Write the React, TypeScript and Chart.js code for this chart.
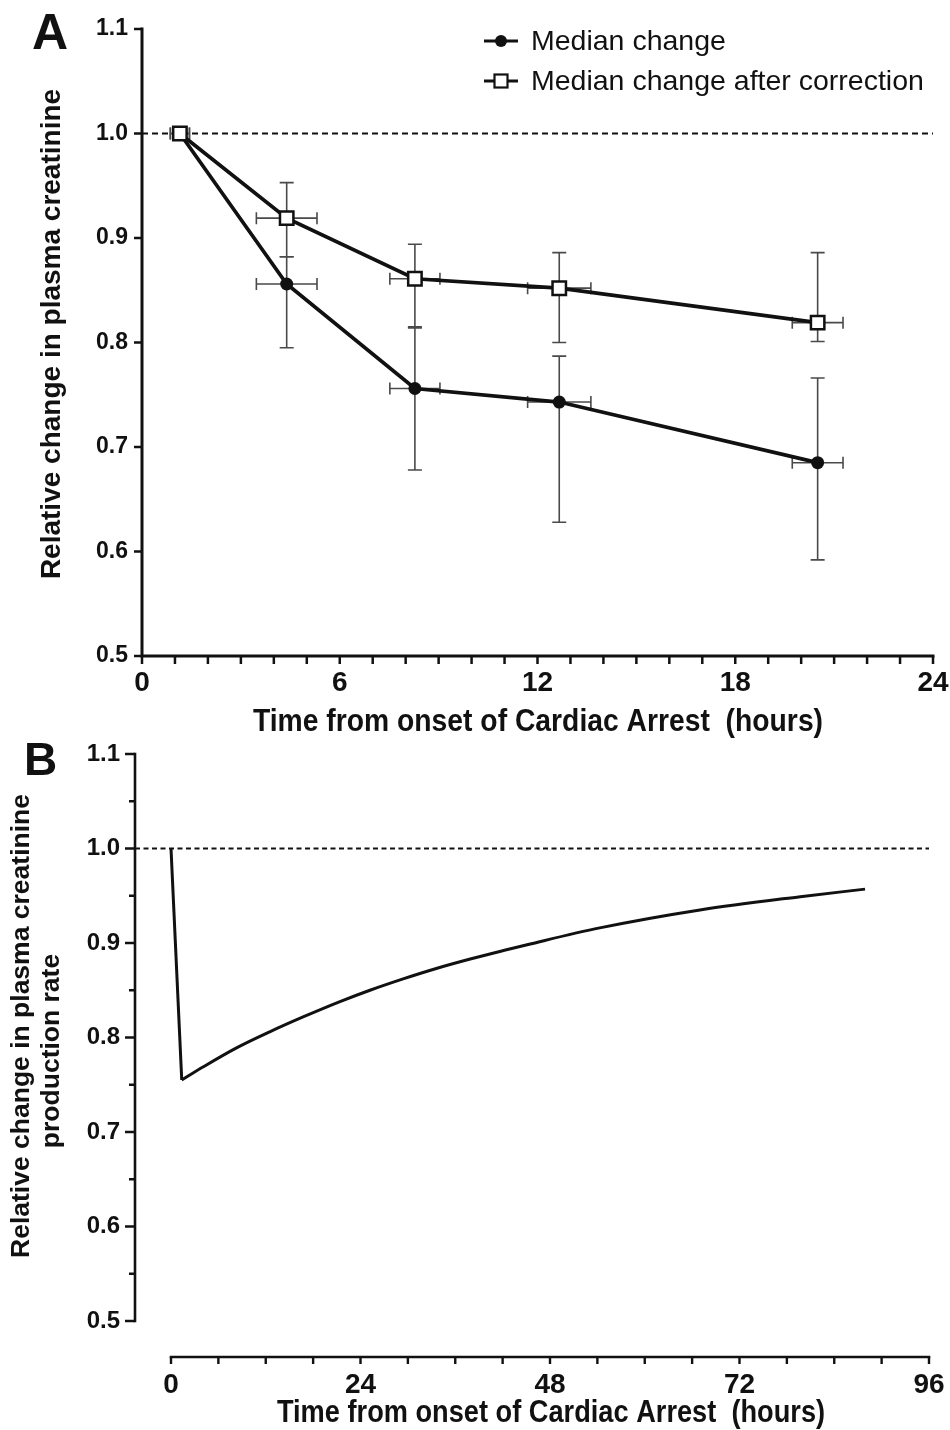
import React, { useEffect, useRef } from "react";
import { Chart, registerables } from "chart.js";

Chart.register(...registerables);

// ---------- Panel A data ----------
const hoursA = [1.15, 4.39, 8.28, 12.66, 20.5];
const hoursErrA = [0.29, 0.92, 0.76, 0.96, 0.77];
const medianChange = [1.0, 0.856, 0.756, 0.743, 0.685];
const medianLow = [1.0, 0.795, 0.678, 0.628, 0.592];
const medianHigh = [1.0, 0.882, 0.815, 0.787, 0.766];
const correctedChange = [1.0, 0.919, 0.861, 0.852, 0.819];
const correctedLow = [1.0, 0.882, 0.814, 0.8, 0.801];
const correctedHigh = [1.0, 0.953, 0.894, 0.886, 0.886];
const xTicksA = [0, 6, 12, 18, 24];
const xMinorStepA = 1;
const yTicksA = [0.5, 0.6, 0.7, 0.8, 0.9, 1.0, 1.1];
const legendLabels = ["Median change", "Median change after correction"];
const titleXA = "Time from onset of Cardiac Arrest  (hours)";
const titleYA = "Relative change in plasma creatinine";
const refLineValue = 1.0;

// ---------- Panel B data ----------
const hoursB = [0, 1.36, 4.1, 8.3, 12.5, 16.8, 21.4, 25.2, 29.4, 33.6, 37.9, 42.1, 45.5, 54.3, 67.0, 79.7, 87.9];
const productionRate = [1.0, 0.755, 0.769, 0.789, 0.806, 0.822, 0.838, 0.85, 0.862, 0.873, 0.883, 0.892, 0.899, 0.916, 0.935, 0.949, 0.957];
const dropEndIndex = 1; // index of the trough: straight drop before it, smooth recovery after
const xTicksB = [0, 24, 48, 72, 96];
const xMinorStepB = 6;
const yTicksB = [0.5, 0.6, 0.7, 0.8, 0.9, 1.0, 1.1];
const yMinorStepB = 0.05;
const titleXB = "Time from onset of Cardiac Arrest  (hours)";
const titleYB = ["Relative change in plasma creatinine", "production rate"];

const FONT = "'Liberation Sans', Arial, Helvetica, sans-serif";
const INK = "#111";

function drawErrorBars(chart: any, dsIndex: number, lows: number[], highs: number[]) {
  const ctx = chart.ctx;
  const xs = chart.scales.x;
  const ys = chart.scales.y;
  const vals = chart.data.datasets[dsIndex].data as any[];
  ctx.save();
  ctx.strokeStyle = "#4a4a4a";
  ctx.lineWidth = 1.6;
  vals.forEach((p: any, j: number) => {
    const x = xs.getPixelForValue(p.x);
    const y = ys.getPixelForValue(p.y);
    const yl = ys.getPixelForValue(lows[j]);
    const yh = ys.getPixelForValue(highs[j]);
    const xl = xs.getPixelForValue(p.x - hoursErrA[j]);
    const xh = xs.getPixelForValue(p.x + hoursErrA[j]);
    ctx.beginPath();
    if (Math.abs(yl - yh) > 0.5) {
      ctx.moveTo(x, yl); ctx.lineTo(x, yh);
      ctx.moveTo(x - 7, yl); ctx.lineTo(x + 7, yl);
      ctx.moveTo(x - 7, yh); ctx.lineTo(x + 7, yh);
    }
    ctx.moveTo(xl, y); ctx.lineTo(xh, y);
    ctx.moveTo(xl, y - 6); ctx.lineTo(xl, y + 6);
    ctx.moveTo(xh, y - 6); ctx.lineTo(xh, y + 6);
    ctx.stroke();
  });
  ctx.restore();
}

function condensedText(ctx: any, text: string, cx: number, cy: number, size: number, sx: number) {
  ctx.save();
  ctx.font = `bold ${size}px ${FONT}`;
  ctx.textAlign = "center";
  ctx.textBaseline = "middle";
  ctx.translate(cx, cy);
  ctx.scale(sx, 1);
  ctx.fillText(text, 0, 0);
  ctx.restore();
}

const panelAPlugin = {
  id: "panelA",
  beforeDatasetsDraw(chart: any) {
    const ctx = chart.ctx;
    const { left, right } = chart.chartArea;
    const y = chart.scales.y.getPixelForValue(refLineValue);
    ctx.save();
    ctx.strokeStyle = INK;
    ctx.lineWidth = 2;
    ctx.setLineDash([6, 4]);
    ctx.beginPath();
    ctx.moveTo(left, y);
    ctx.lineTo(right, y);
    ctx.stroke();
    ctx.restore();
    drawErrorBars(chart, 0, medianLow, medianHigh);
    drawErrorBars(chart, 1, correctedLow, correctedHigh);
  },
  afterDraw(chart: any) {
    const ctx = chart.ctx;
    const { left, bottom } = chart.chartArea;
    const xs = chart.scales.x;
    const ys = chart.scales.y;
    ctx.save();
    ctx.strokeStyle = INK;
    ctx.fillStyle = INK;
    // axes
    ctx.lineWidth = 3;
    ctx.lineCap = "square";
    ctx.beginPath();
    ctx.moveTo(left, ys.getPixelForValue(yTicksA[yTicksA.length - 1]));
    ctx.lineTo(left, ys.getPixelForValue(yTicksA[0]));
    ctx.lineTo(xs.getPixelForValue(xTicksA[xTicksA.length - 1]), bottom);
    ctx.stroke();
    ctx.lineCap = "butt";
    ctx.lineWidth = 2.5;
    ctx.beginPath();
    yTicksA.forEach((v) => {
      const y = ys.getPixelForValue(v);
      ctx.moveTo(left - 8, y); ctx.lineTo(left, y);
    });
    for (let h = xTicksA[0]; h <= xTicksA[xTicksA.length - 1] + 1e-9; h += xMinorStepA) {
      const x = xs.getPixelForValue(h);
      ctx.moveTo(x, bottom); ctx.lineTo(x, bottom + 8);
    }
    ctx.stroke();
    // panel letter
    ctx.font = `bold 50px ${FONT}`;
    ctx.textAlign = "left";
    ctx.textBaseline = "alphabetic";
    ctx.fillText("A", 32, 49);
    // x title (condensed bold)
    condensedText(ctx, titleXA, 538, 722, 32, 0.884);
    // y title
    ctx.save();
    ctx.translate(52, 334);
    ctx.rotate(-Math.PI / 2);
    ctx.font = `bold 28px ${FONT}`;
    ctx.textAlign = "center";
    ctx.textBaseline = "middle";
    ctx.fillText(titleYA, 0, 0);
    ctx.restore();
    // legend
    const rows = [41, 81];
    ctx.font = `28.5px ${FONT}`;
    ctx.textAlign = "left";
    ctx.textBaseline = "middle";
    rows.forEach((ry, i) => {
      ctx.strokeStyle = INK;
      ctx.lineWidth = 3.2;
      ctx.beginPath();
      ctx.moveTo(484, ry); ctx.lineTo(518, ry);
      ctx.stroke();
      if (i === 0) {
        ctx.beginPath();
        ctx.arc(501, ry, 6, 0, Math.PI * 2);
        ctx.fill();
      } else {
        ctx.fillStyle = "#fff";
        ctx.fillRect(494.5, ry - 6.5, 13, 13);
        ctx.lineWidth = 2.2;
        ctx.strokeRect(494.5, ry - 6.5, 13, 13);
        ctx.fillStyle = INK;
      }
      ctx.fillText(legendLabels[i], 531, ry + 1);
    });
    ctx.restore();
  },
};

const panelBPlugin = {
  id: "panelB",
  beforeDatasetsDraw(chart: any) {
    const ctx = chart.ctx;
    const { left, right } = chart.chartArea;
    const y = chart.scales.y.getPixelForValue(refLineValue);
    ctx.save();
    ctx.strokeStyle = INK;
    ctx.lineWidth = 1.8;
    ctx.setLineDash([5, 3.5]);
    ctx.beginPath();
    ctx.moveTo(left, y);
    ctx.lineTo(right, y);
    ctx.stroke();
    ctx.restore();
  },
  afterDraw(chart: any) {
    const ctx = chart.ctx;
    const { left, bottom } = chart.chartArea;
    const xs = chart.scales.x;
    const ys = chart.scales.y;
    ctx.save();
    ctx.strokeStyle = INK;
    ctx.fillStyle = INK;
    ctx.lineWidth = 2.6;
    ctx.lineCap = "square";
    ctx.beginPath();
    ctx.moveTo(left, ys.getPixelForValue(yTicksB[yTicksB.length - 1]));
    ctx.lineTo(left, ys.getPixelForValue(yTicksB[0]));
    ctx.stroke();
    ctx.beginPath();
    ctx.moveTo(xs.getPixelForValue(xTicksB[0]), bottom);
    ctx.lineTo(xs.getPixelForValue(xTicksB[xTicksB.length - 1]), bottom);
    ctx.stroke();
    ctx.lineCap = "butt";
    ctx.lineWidth = 2.4;
    ctx.beginPath();
    const y0 = yTicksB[0], y1 = yTicksB[yTicksB.length - 1];
    for (let v = y0; v <= y1 + 1e-9; v += yMinorStepB) {
      const y = ys.getPixelForValue(v);
      const isMajor = yTicksB.some((t) => Math.abs(t - v) < 1e-6);
      ctx.moveTo(left - (isMajor ? 10 : 6), y); ctx.lineTo(left, y);
    }
    for (let h = xTicksB[0]; h <= xTicksB[xTicksB.length - 1] + 1e-9; h += xMinorStepB) {
      const x = xs.getPixelForValue(h);
      ctx.moveTo(x, bottom); ctx.lineTo(x, bottom + 7);
    }
    ctx.stroke();
    // panel letter
    ctx.font = `bold 46px ${FONT}`;
    ctx.textAlign = "left";
    ctx.textBaseline = "alphabetic";
    ctx.fillText("B", 24, 35);
    // x title (condensed bold)
    condensedText(ctx, titleXB, 551, 673, 32, 0.85);
    // y title (two lines)
    ctx.font = `bold 26.5px ${FONT}`;
    ctx.textAlign = "center";
    ctx.textBaseline = "middle";
    const centers = [[22, 286], [52, 311]];
    titleYB.forEach((t, i) => {
      ctx.save();
      ctx.translate(centers[i][0], centers[i][1]);
      ctx.rotate(-Math.PI / 2);
      ctx.fillText(t, 0, 0);
      ctx.restore();
    });
    ctx.restore();
  },
};

function makeChartA(canvas: HTMLCanvasElement) {
  return new Chart(canvas, {
    type: "line",
    data: {
      datasets: [
        {
          label: legendLabels[0],
          data: hoursA.map((h, i) => ({ x: h, y: medianChange[i] })),
          borderColor: INK,
          backgroundColor: INK,
          borderWidth: 3.7,
          pointStyle: "circle",
          pointRadius: 6.5,
          pointBorderWidth: 0,
          pointBackgroundColor: INK,
          tension: 0,
          order: 1,
        },
        {
          label: legendLabels[1],
          data: hoursA.map((h, i) => ({ x: h, y: correctedChange[i] })),
          borderColor: INK,
          backgroundColor: "#fff",
          borderWidth: 3.7,
          pointStyle: "rect",
          pointRadius: 9.5,
          pointBorderWidth: 2.5,
          pointBorderColor: INK,
          pointBackgroundColor: "#fff",
          tension: 0,
          order: 0,
        },
      ],
    },
    options: {
      animation: false,
      responsive: false,
      events: [],
      layout: { padding: { left: 0, top: 29, right: 17, bottom: 0 } },
      plugins: { legend: { display: false }, tooltip: { enabled: false } },
      scales: {
        x: {
          type: "linear",
          min: xTicksA[0],
          max: xTicksA[xTicksA.length - 1],
          afterBuildTicks: (s: any) => { s.ticks = xTicksA.map((v) => ({ value: v })); },
          afterFit: (s: any) => { s.height = 84; s.paddingLeft = 0; s.paddingRight = 0; },
          grid: { display: false, drawTicks: false },
          border: { display: false },
          ticks: {
            padding: 10,
            autoSkip: false,
            maxRotation: 0,
            color: INK,
            font: { family: FONT, size: 28, weight: "bold" },
          },
        },
        y: {
          type: "linear",
          min: yTicksA[0],
          max: yTicksA[yTicksA.length - 1],
          afterBuildTicks: (s: any) => { s.ticks = yTicksA.map((v) => ({ value: v })); },
          afterFit: (s: any) => { s.width = 142; s.paddingTop = 0; s.paddingBottom = 0; },
          grid: { display: false, drawTicks: false },
          border: { display: false },
          ticks: {
            padding: 14,
            color: INK,
            callback: (v: any) => Number(v).toFixed(1),
            font: { family: FONT, size: 23, weight: "bold" },
          },
        },
      },
    } as any,
    plugins: [panelAPlugin],
  });
}

function makeChartB(canvas: HTMLCanvasElement) {
  // y-range below 0.5 and x-range below 0 create the offset (detached) axes
  const yMin = 0.4619;
  const xMin = -4.56;
  const pts = hoursB.map((h, i) => ({ x: h, y: productionRate[i] }));
  return new Chart(canvas, {
    type: "line",
    data: {
      datasets: [
        {
          label: "Initial drop",
          data: pts.slice(0, dropEndIndex + 1),
          borderColor: INK,
          borderWidth: 3,
          pointRadius: 0,
          tension: 0,
        },
        {
          label: "Recovery",
          data: pts.slice(dropEndIndex),
          borderColor: INK,
          borderWidth: 3,
          pointRadius: 0,
          cubicInterpolationMode: "monotone",
        },
      ],
    },
    options: {
      animation: false,
      responsive: false,
      events: [],
      layout: { padding: { left: 0, top: 14, right: 21, bottom: 0 } },
      plugins: { legend: { display: false }, tooltip: { enabled: false } },
      scales: {
        x: {
          type: "linear",
          min: xMin,
          max: xTicksB[xTicksB.length - 1],
          afterBuildTicks: (s: any) => { s.ticks = xTicksB.map((v) => ({ value: v })); },
          afterFit: (s: any) => { s.height = 73; s.paddingLeft = 0; s.paddingRight = 0; },
          grid: { display: false, drawTicks: false },
          border: { display: false },
          ticks: {
            padding: 11,
            autoSkip: false,
            maxRotation: 0,
            color: INK,
            font: { family: FONT, size: 28, weight: "bold" },
          },
        },
        y: {
          type: "linear",
          min: yMin,
          max: yTicksB[yTicksB.length - 1],
          afterBuildTicks: (s: any) => { s.ticks = yTicksB.map((v) => ({ value: v })); },
          afterFit: (s: any) => { s.width = 135; s.paddingTop = 0; s.paddingBottom = 0; },
          grid: { display: false, drawTicks: false },
          border: { display: false },
          ticks: {
            padding: 15,
            color: INK,
            callback: (v: any) => Number(v).toFixed(1),
            font: { family: FONT, size: 24, weight: "bold" },
          },
        },
      },
    } as any,
    plugins: [panelBPlugin],
  });
}

export default function App() {
  const refA = useRef<HTMLCanvasElement | null>(null);
  const refB = useRef<HTMLCanvasElement | null>(null);

  useEffect(() => {
    const a = refA.current ? makeChartA(refA.current) : null;
    const b = refB.current ? makeChartB(refB.current) : null;
    return () => {
      a?.destroy();
      b?.destroy();
    };
  }, []);

  return (
    <div style={{ position: "absolute", left: 0, top: 0, width: 950, height: 1430, background: "#fff" }}>
      <canvas ref={refA} width={950} height={740} style={{ position: "absolute", left: 0, top: 0, width: 950, height: 740 }} />
      <canvas ref={refB} width={950} height={690} style={{ position: "absolute", left: 0, top: 740, width: 950, height: 690 }} />
    </div>
  );
}
